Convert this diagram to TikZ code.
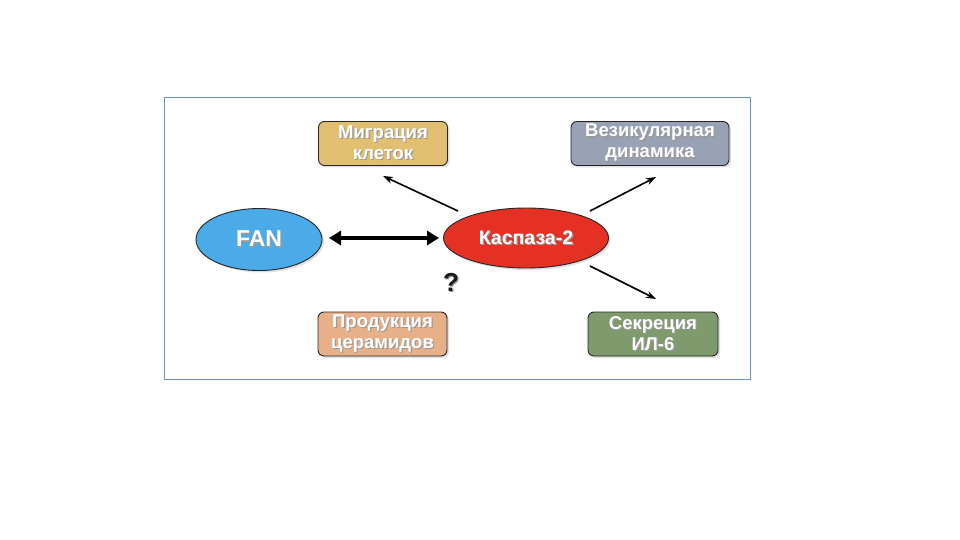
\documentclass[tikz,border=0pt]{standalone}
\usepackage{fontspec}
\setmainfont{Liberation Sans}
\usetikzlibrary{shapes.geometric,arrows.meta,shadows}
\definecolor{frameblue}{HTML}{7090C0}
\definecolor{migr}{HTML}{E0C070}
\definecolor{vez}{HTML}{98A2B4}
\definecolor{prod}{HTML}{E8B088}
\definecolor{sekr}{HTML}{7F9A6C}
\definecolor{fanblue}{HTML}{4BAAE8}
\definecolor{kasp}{HTML}{E43124}
\newcommand\shtxt[1]{\leavevmode\rlap{\kern1.2pt\raisebox{-1.2pt}{\textcolor{black!40}{#1}}}#1}
\tikzset{
  x=1pt,y=-1pt,
  procbox/.style={draw=black!85,line width=0.9pt,rounded corners=6pt,minimum width=129pt,minimum height=44pt,
    align=center,text=white,font=\bfseries\fontsize{18.5}{21}\selectfont,inner sep=1pt,
    drop shadow={shadow xshift=2pt,shadow yshift=-2pt,opacity=0.25}},
  oval/.style={ellipse,draw=black!85,line width=0.9pt,text=white,
    drop shadow={shadow xshift=2pt,shadow yshift=-2pt,opacity=0.25}},
  effarrow/.style={-{Stealth[length=10pt,width=7pt]},line width=1.6pt},
  bigarrow/.style={{Triangle[length=12pt,width=14pt]}-{Triangle[length=12pt,width=14pt]},line width=4pt}
}
\begin{document}
\begin{tikzpicture}
\useasboundingbox (0,0) rectangle (960,540);
\draw[frameblue,line width=0.8pt] (164,97) rectangle (750,379);
\node[procbox,fill=migr] (migr) at (383,143.5) {\shtxt{Миграция}\\\shtxt{клеток}};
\node[procbox,fill=vez,minimum width=158pt] (vez) at (650,143.5) {\shtxt{Везикулярная}\\\shtxt{динамика}};
\node[procbox,fill=prod] (prod) at (382.5,334) {\shtxt{Продукция}\\\shtxt{церамидов}};
\node[procbox,fill=sekr,minimum width=130pt] (sekr) at (653,334) {\shtxt{Секреция}\\\shtxt{ИЛ-6}};
\node[oval,fill=fanblue,minimum width=126pt,minimum height=62pt,font=\bfseries\fontsize{23}{26}\selectfont] (fan) at (259,239.5) {\shtxt{FAN}};
\node[oval,fill=kasp,minimum width=165pt,minimum height=60pt,font=\bfseries\fontsize{19.5}{22}\selectfont] (kasp) at (526,238) {\shtxt{Каспаза-2}};
\node[font=\bfseries\fontsize{26}{28}\selectfont,text=black!90] (q) at (451,283) {\shtxt{?}};
\coordinate (km) at (458,211);
\coordinate (kv) at (590,211);
\coordinate (ks) at (590,266);
\coordinate (mt) at (383,176);
\coordinate (vt) at (656,177);
\coordinate (st) at (656,299);
\coordinate (fa) at (329,238);
\coordinate (ka) at (439,238);
\draw[effarrow] (km) -- (mt);
\draw[effarrow] (kv) -- (vt);
\draw[effarrow] (ks) -- (st);
\draw[bigarrow] (fa) -- (ka);
\end{tikzpicture}
\end{document}
